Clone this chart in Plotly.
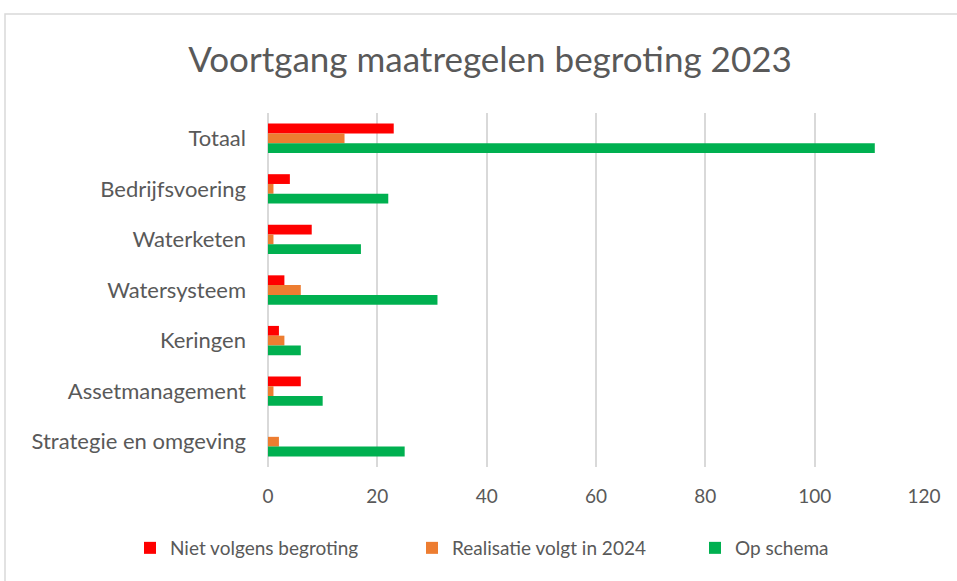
import plotly.graph_objects as go

categories = ["Totaal", "Bedrijfsvoering", "Waterketen", "Watersysteem", "Keringen",
              "Assetmanagement", "Strategie en omgeving"]
niet_volgens = [23, 4, 8, 3, 2, 6, 0]
realisatie_2024 = [14, 1, 1, 6, 3, 1, 2]
op_schema = [111, 22, 17, 31, 6, 10, 25]

series_names = ["Niet volgens begroting", "Realisatie volgt in 2024", "Op schema"]
series_values = [niet_volgens, realisatie_2024, op_schema]
colors = ["#FF0000", "#ED7D31", "#00B050"]

x_ticks = [0, 20, 40, 60, 80, 100, 120]

W, H = 957, 581
ml, mr, mt, mb = 268, 33, 113, 114
pw = W - ml - mr
ph = H - mt - mb

legend_ids = ["legend", "legend2", "legend3"]
legend_left_px = [130, 412, 695]

fig = go.Figure()
for name, vals, col, lg in zip(series_names, series_values, colors, legend_ids):
    fig.add_trace(go.Bar(
        y=categories, x=vals, name=name, orientation="h", legend=lg,
        marker=dict(color=col, line=dict(width=0)),
    ))

def px_x(p):
    return (p - ml) / pw

def px_y(p):
    return (H - mb - p) / ph

legend_common = dict(orientation="h", xref="container", xanchor="left",
                     yref="container", y=1 - 548 / H, yanchor="middle",
                     font=dict(size=19, color="#595959"), bgcolor="rgba(0,0,0,0)")

fig.update_layout(
    width=W, height=H,
    margin=dict(l=ml, r=mr, t=mt, b=mb),
    paper_bgcolor="white", plot_bgcolor="white",
    font=dict(family="Lato", color="#595959"),
    barmode="group", bargap=0.42, bargroupgap=0,
    title=dict(text="Voortgang maatregelen begroting 2023", x=490 / W, xanchor="center",
               y=1 - 60 / H, yanchor="middle",
               font=dict(size=35, color="#595959", family="Lato")),
    legend=dict(x=legend_left_px[0] / W, **legend_common),
    legend2=dict(x=legend_left_px[1] / W, **legend_common),
    legend3=dict(x=legend_left_px[2] / W, **legend_common),
    showlegend=True,
    xaxis=dict(range=[0, 120], tickvals=x_ticks, showgrid=True, gridcolor="#D9D9D9",
               gridwidth=1.5, zeroline=True, zerolinecolor="#D9D9D9", zerolinewidth=1.5,
               tickfont=dict(size=19, color="#595959"), ticks="", ticklabelstandoff=16,
               fixedrange=True),
    yaxis=dict(autorange="reversed", tickfont=dict(size=22, color="#595959"),
               ticks="", ticklabelstandoff=21, showgrid=False, showline=False),
    shapes=[dict(type="rect", xref="paper", yref="paper",
                 x0=px_x(5), x1=px_x(965), y0=px_y(595), y1=px_y(14),
                 line=dict(color="#D9D9D9", width=1.5), fillcolor="rgba(0,0,0,0)",
                 layer="below")],
)

fig.write_html("out.html", config={"displayModeBar": False},
               post_script="document.body.style.margin='0px';")
